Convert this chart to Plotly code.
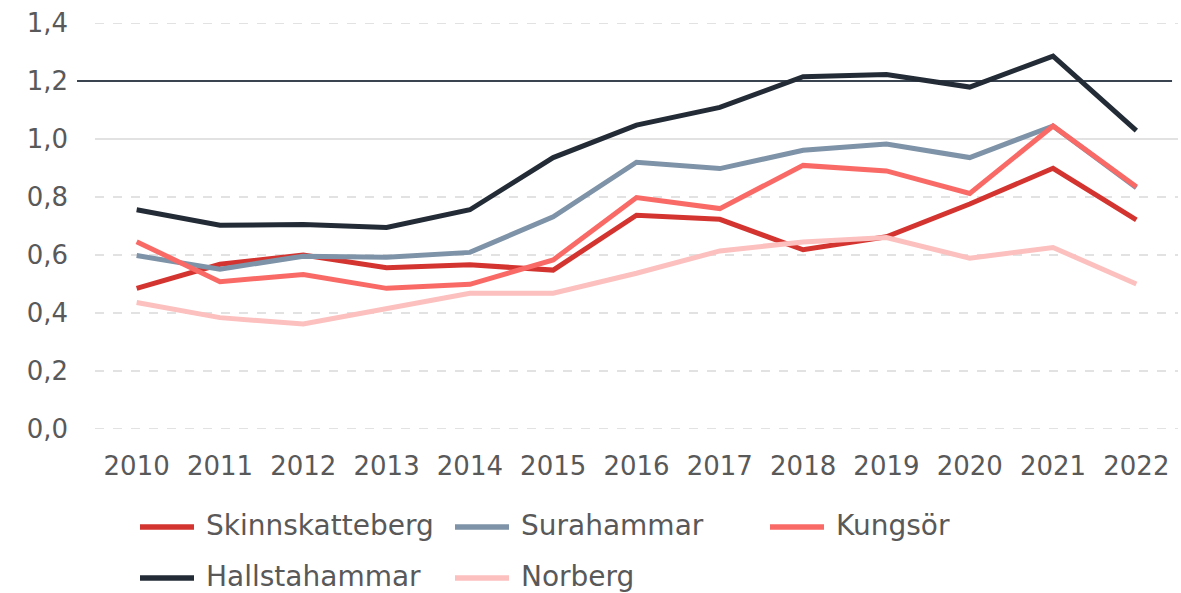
import plotly.graph_objects as go

years = [2010, 2011, 2012, 2013, 2014, 2015, 2016, 2017, 2018, 2019, 2020, 2021, 2022]

skinnskatteberg = [0.485, 0.568, 0.600, 0.556, 0.566, 0.548, 0.737, 0.723, 0.618, 0.663, 0.776, 0.899, 0.721]
surahammar = [0.598, 0.551, 0.596, 0.592, 0.609, 0.732, 0.920, 0.898, 0.961, 0.983, 0.936, 1.045, 0.832]
kungsor = [0.646, 0.508, 0.533, 0.485, 0.499, 0.583, 0.798, 0.760, 0.909, 0.890, 0.812, 1.045, 0.835]
hallstahammar = [0.756, 0.703, 0.705, 0.695, 0.756, 0.936, 1.048, 1.109, 1.215, 1.222, 1.179, 1.286, 1.029]
norberg = [0.436, 0.384, 0.362, 0.414, 0.468, 0.468, 0.537, 0.614, 0.645, 0.660, 0.589, 0.626, 0.500]

y_ticks = [0.0, 0.2, 0.4, 0.6, 0.8, 1.0, 1.2, 1.4]
y_tick_labels = ["0,0", "0,2", "0,4", "0,6", "0,8", "1,0", "1,2", "1,4"]
reference_level = 1.2

series = [
    ("Skinnskatteberg", skinnskatteberg, "#D4342F"),
    ("Surahammar", surahammar, "#7E93A7"),
    ("Kungsör", kungsor, "#F96A67"),
    ("Hallstahammar", hallstahammar, "#232C36"),
    ("Norberg", norberg, "#FCC0BF"),
]

FONT = "DejaVu Sans"
TEXT_COLOR = "#595959"

fig = go.Figure()

# dashed gridlines drawn as shapes so the 1,0 line can be solid
shapes = []
for v in y_ticks:
    if v == reference_level:
        continue
    shapes.append(dict(
        type="line", xref="paper", yref="y", x0=0, x1=1, y0=v, y1=v,
        line=dict(color="#D9D9D9", width=1.5, dash="solid" if v == 1.0 else "dash"),
        layer="below",
    ))

# reference line at 1,2
shapes.append(dict(
    type="line", xref="paper", yref="y", x0=-0.0166, x1=0.9945,
    y0=reference_level, y1=reference_level,
    line=dict(color="#3A4350", width=2), layer="below",
))

for name, vals, color in series:
    fig.add_trace(go.Scatter(
        x=years, y=vals, mode="lines", name=name,
        line=dict(color=color, width=5, shape="linear"),
        showlegend=False,
    ))

# legend built from shapes + text, laid out in a 3-column grid
plot_left, plot_width = 95, 1083
plot_bottom, plot_height = 429, 406
col_x = [140, 455, 770]
row_y = [527, 578]
annotations = []
for i, (name, vals, color) in enumerate(series):
    cx = col_x[i % 3]
    cy = row_y[i // 3]
    py = (plot_bottom - cy) / plot_height
    shapes.append(dict(
        type="line", xref="paper", yref="paper",
        x0=(cx - plot_left) / plot_width, x1=(cx + 54 - plot_left) / plot_width,
        y0=py, y1=py, line=dict(color=color, width=5.5),
    ))
    annotations.append(dict(
        xref="paper", yref="paper", x=(cx + 64 - plot_left) / plot_width,
        y=(plot_bottom - cy + 2) / plot_height,
        text=name, showarrow=False, xanchor="left", yanchor="middle",
        font=dict(family=FONT, size=28, color=TEXT_COLOR),
    ))

fig.update_layout(
    width=1181, height=593,
    margin=dict(l=95, r=3, t=23, b=164),
    paper_bgcolor="white", plot_bgcolor="white",
    shapes=shapes, annotations=annotations,
    font=dict(family=FONT, size=26, color=TEXT_COLOR),
    xaxis=dict(
        range=[2009.5, 2022.5], tickmode="array", tickvals=years,
        ticktext=[str(y) for y in years], showgrid=False, zeroline=False,
        showline=False, ticks="", ticklabelstandoff=19,
        tickfont=dict(family=FONT, size=26, color=TEXT_COLOR),
    ),
    yaxis=dict(
        range=[0, 1.4], tickmode="array", tickvals=y_ticks, ticktext=y_tick_labels,
        showgrid=False, zeroline=False, showline=False, ticks="",
        ticklabelstandoff=26,
        tickfont=dict(family=FONT, size=26, color=TEXT_COLOR),
    ),
)

fig.write_html("out.html")
